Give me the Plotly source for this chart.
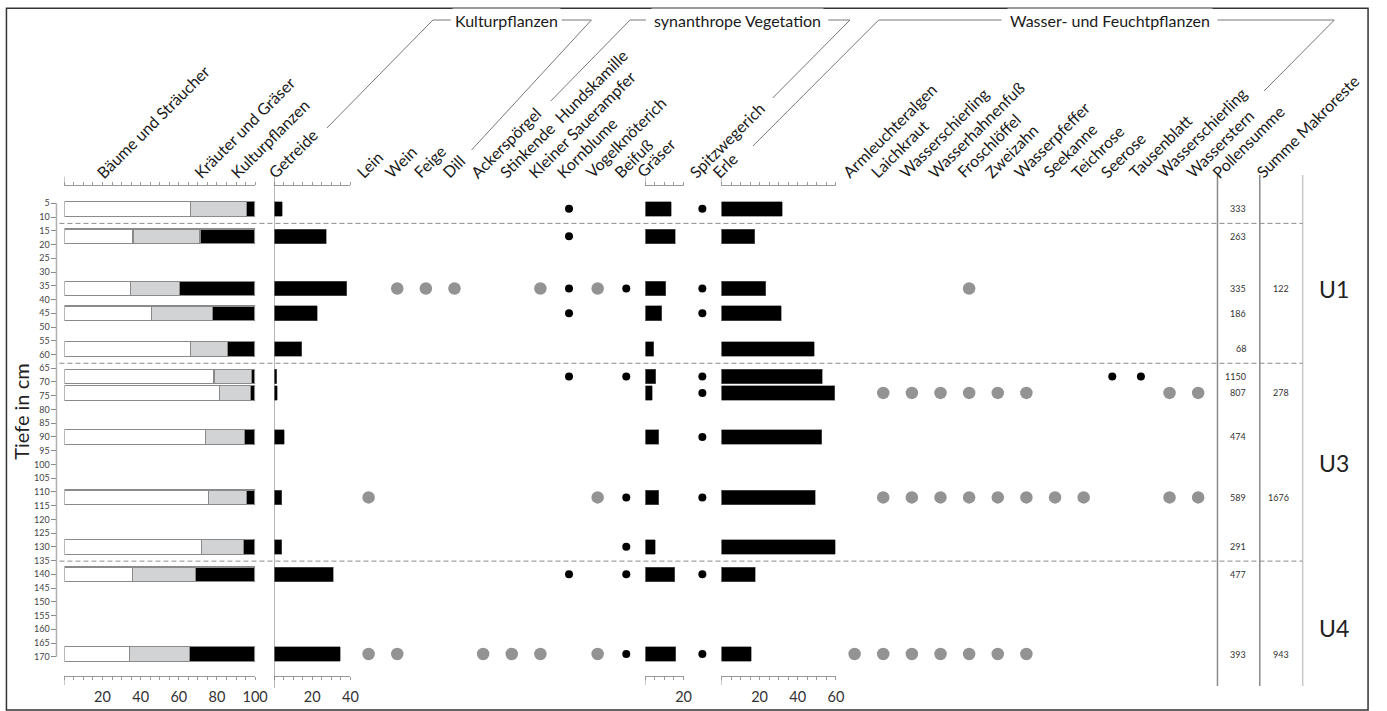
import plotly.graph_objects as go

W, H = 1387, 711
FONT = "Lato"

# ---------------------------------------------------------------- data
# sample depths in cm
tiefe = [7, 17, 36, 45, 58, 68, 74, 90, 112, 130, 140, 169]

# pollen percentages of the three main groups
baeume_straeucher = [66.0, 36.0, 34.7, 45.8, 66.2, 78.5, 81.3, 73.8, 75.4, 71.9, 35.9, 34.3]
kraeuter_graeser = [29.5, 35.1, 25.5, 31.7, 19.2, 19.8, 16.3, 20.8, 19.9, 22.2, 32.7, 31.1]
kulturpflanzen = [4.5, 28.9, 39.8, 22.5, 14.6, 1.7, 2.4, 5.4, 4.7, 5.9, 31.4, 34.6]

# single taxa (percent)
getreide = [4.3, 27.4, 38.1, 22.5, 14.4, 1.3, 1.7, 5.3, 4.1, 3.9, 31.0, 34.7]
graeser = [13.5, 15.6, 10.7, 8.6, 4.3, 5.3, 3.6, 7.1, 6.9, 5.2, 15.3, 16.0]
erle = [31.8, 17.5, 23.3, 31.3, 48.6, 52.9, 59.3, 52.7, 49.3, 59.7, 17.8, 15.6]

# counts
pollensumme = [333, 263, 335, 186, 68, 1150, 807, 474, 589, 291, 477, 393]
summe_makroreste = [None, None, 122, None, None, None, 278, None, 1676, None, None, 943]

# zones
zonen_grenzen = [12.3, 63.2, 135.2]
zonen = ["U1", "U3", "U4"]
zonen_tiefe = [36.3, 99.5, 159.6]

# presence columns: grey = macro remains, black = pollen
syn_taxa = ["Lein", "Wein", "Feige", "Dill", "Ackerspörgel",
            "Stinkende\u00a0 Hundskamille", "Kleiner Sauerampfer", "Kornblume",
            "Vogelknöterich", "Beifuß"]
syn_makro = [[112, 169], [36, 169], [36], [36], [169], [169], [36, 169], [],
             [36, 112, 169], []]
syn_pollen = [[], [], [], [], [], [], [], [7, 17, 36, 45, 68, 140], [],
              [36, 68, 112, 130, 140, 169]]

spitzwegerich_pollen = [7, 36, 45, 68, 74, 90, 112, 140, 169]

wasser_taxa = ["Armleuchteralgen", "Laichkraut", "Wasserschierling", "Wasserhahnenfuß",
               "Froschlöffel", "Zweizahn", "Wasserpfeffer", "Seekanne", "Teichrose",
               "Seerose", "Tausenblatt", "Wasserschierling", "Wasserstern"]
wasser_makro = [[169], [74, 112, 169], [74, 112, 169], [74, 112, 169], [36, 74, 112, 169],
                [74, 112, 169], [74, 112, 169], [112], [112], [], [], [74, 112], [74, 112]]
wasser_pollen = [[], [], [], [], [], [], [], [], [], [68], [68], [], []]

# ---------------------------------------------------------------- layout helpers
def px(x):
    return x / W


def py(y):
    return 1 - y / H


# vertical scale: depth d (cm) sits at pixel row 189.6 + 2.748 * d
D0, DS = 189.6, 2.748
Y_TOP, Y_BOT = 185.5, 675.7
y_range = [(Y_BOT - D0) / DS, (Y_TOP - D0) / DS]
BAR_W = 5.3
PCT = 1.925  # pixels per percent

GREY_DOT = "#939393"
AX_GREY = "#9a9a9a"

fig = go.Figure()

# stacked summary bars
for vals, col, name in [(baeume_straeucher, "#ffffff", "Bäume und Sträucher"),
                        (kraeuter_graeser, "#d1d3d4", "Kräuter und Gräser"),
                        (kulturpflanzen, "#000000", "Kulturpflanzen")]:
    fig.add_trace(go.Bar(x=vals, y=tiefe, orientation="h", width=[BAR_W] * len(tiefe),
                         marker=dict(color=col, line=dict(color="#8a8a8a", width=1.2)),
                         xaxis="x", yaxis="y", name=name, showlegend=False))

black_bar = dict(color="#000000", line=dict(color="#666666", width=0.6))
fig.add_trace(go.Bar(x=getreide, y=tiefe, orientation="h", width=[BAR_W] * len(tiefe),
                     marker=black_bar, xaxis="x2", yaxis="y", showlegend=False))
fig.add_trace(go.Bar(x=graeser, y=tiefe, orientation="h", width=[BAR_W] * len(tiefe),
                     marker=black_bar, xaxis="x4", yaxis="y", showlegend=False))
fig.add_trace(go.Bar(x=erle, y=tiefe, orientation="h", width=[BAR_W] * len(tiefe),
                     marker=black_bar, xaxis="x6", yaxis="y", showlegend=False))


def dots(lists, axis, color, size):
    xs = [i for i, ds in enumerate(lists) for _ in ds]
    ys = [d for ds in lists for d in ds]
    fig.add_trace(go.Scatter(x=xs, y=ys, mode="markers", xaxis=axis, yaxis="y",
                             marker=dict(color=color, size=size, line=dict(width=0)),
                             cliponaxis=False, showlegend=False))


dots(syn_makro, "x3", GREY_DOT, 12.5)
dots(syn_pollen, "x3", "#000000", 8)
dots([spitzwegerich_pollen], "x5", "#000000", 8)
dots(wasser_makro, "x7", GREY_DOT, 12.5)
dots(wasser_pollen, "x7", "#000000", 8)


def scale_axis(x0, vmax, labels):
    vals = list(range(0, vmax + 1, 5))
    return dict(domain=[px(x0), px(x0 + vmax * PCT)], range=[0, vmax], anchor="y",
                showline=True, linecolor=AX_GREY, linewidth=1, mirror="ticks",
                ticks="outside", ticklen=3, tickwidth=1, tickcolor=AX_GREY,
                tickvals=vals, ticktext=[str(v) if v in labels else "" for v in vals],
                tickfont=dict(size=14.5, color="#333333", family=FONT),
                ticklabelstandoff=5, showgrid=False, zeroline=False)


def dot_axis(x_first, n, step=28.9):
    return dict(domain=[px(x_first - step / 2), px(x_first + (n - 0.5) * step)],
                range=[-0.5, n - 0.5], anchor="y", visible=False)


X_SUM, X_GET, X_GRA, X_ERL = 65.0, 276.7, 651.5, 728.3
X_SYN, X_SPI, X_WAS = 372.1, 709.0, 862.7

fig.update_layout(
    width=W, height=H, margin=dict(l=0, r=0, t=0, b=0),
    paper_bgcolor="white", plot_bgcolor="rgba(0,0,0,0)",
    barmode="stack", showlegend=False,
    font=dict(family=FONT, color="#222222"),
    xaxis=scale_axis(X_SUM, 100, [20, 40, 60, 80, 100]),
    xaxis2=scale_axis(X_GET, 40, [20, 40]),
    xaxis3=dot_axis(X_SYN, len(syn_taxa)),
    xaxis4=scale_axis(X_GRA, 20, [20]),
    xaxis5=dot_axis(X_SPI, 1),
    xaxis6=scale_axis(X_ERL, 60, [20, 40, 60]),
    xaxis7=dot_axis(X_WAS, len(wasser_taxa)),
    yaxis=dict(domain=[py(Y_BOT), py(Y_TOP)], range=y_range, anchor="free",
               position=px(57), showline=False, showgrid=False, zeroline=False,
               ticks="outside", ticklen=5, tickwidth=1, tickcolor="#8a8a8a",
               tickvals=list(range(5, 171, 5)),
               tickfont=dict(size=9, color="#444444", family=FONT)),
)

shapes = []

# outer frame
shapes.append(dict(type="rect", xref="paper", yref="paper", x0=px(6.5), x1=px(1381),
                   y0=py(710), y1=py(8.3), line=dict(color="#333333", width=1.5)))
# depth axis line
shapes.append(dict(type="line", xref="paper", yref="y", x0=px(57), x1=px(57), y0=5, y1=170,
                   line=dict(color="#b0b0b0", width=1.5)))
# longer zero ticks of the scale axes
for ax in ["x", "x4", "x6"]:
    shapes.append(dict(type="line", xref=ax, yref="paper", x0=0, x1=0,
                       y0=py(Y_TOP), y1=py(176.5), line=dict(color=AX_GREY, width=1)))
    shapes.append(dict(type="line", xref=ax, yref="paper", x0=0, x1=0,
                       y0=py(Y_BOT), y1=py(685), line=dict(color=AX_GREY, width=1)))
# baseline of the Getreide column
shapes.append(dict(type="line", xref="x2", yref="paper", x0=0, x1=0,
                   y0=py(176), y1=py(688), line=dict(color="#777777", width=1)))
# separators of the count columns
for xx, col in [(1229, "#8a8a8a"), (1271.7, "#8a8a8a"), (1315, "#c8c8c8")]:
    shapes.append(dict(type="line", xref="paper", yref="paper", x0=px(xx), x1=px(xx),
                       y0=py(175), y1=py(686), line=dict(color=col, width=1.5)))
# zone boundaries
for d in zonen_grenzen:
    shapes.append(dict(type="line", xref="paper", yref="y", x0=px(60), x1=px(1315),
                       y0=d, y1=d, line=dict(color="#8c8c8c", width=1, dash="5px,3px")))

# group brackets in the header
bracket_lines = [
    [(330, 128), (437, 20), (455, 20)],
    [(567, 20), (597, 20), (476, 150)],
    [(556, 101), (636, 20), (652, 20)],
    [(836, 20), (858, 20), (780, 98)],
    [(760, 146), (887, 20), (1011, 20)],
    [(1229, 20), (1347, 20), (1276, 91)],
]
for pts in bracket_lines:
    path = "M " + " L ".join(f"{px(a)},{py(b)}" for a, b in pts)
    shapes.append(dict(type="path", xref="paper", yref="paper", path=path,
                       line=dict(color="#777777", width=1)))

fig.update_layout(shapes=shapes)

ann = []
LBL_SIZE = 16
LBL = dict(size=LBL_SIZE, color="#1a1a1a", family=FONT)
OFF = 0.707 * 1.2 * LBL_SIZE - 2.3  # corner offset of the rotated text box
Y_LBL = 179


def rot_label(text, x, xref="paper", xshift=0):
    ann.append(dict(text=text, x=x, y=py(Y_LBL + 2.3), xref=xref, yref="paper",
                    xshift=xshift, xanchor="left", yanchor="bottom", textangle=-45,
                    showarrow=False, borderpad=0, borderwidth=0, font=LBL))


rot_label("Bäume und Sträucher", px(105 - OFF))
rot_label("Kräuter und Gräser", px(203 - OFF))
rot_label("Kulturpflanzen", px(240 - OFF))
rot_label("Getreide", px(278 - OFF))
for i, t in enumerate(syn_taxa):
    rot_label(t, i, xref="x3", xshift=-5 - OFF)
rot_label("Gräser", px(650 - OFF))
rot_label("Spitzwegerich", 0, xref="x5", xshift=-5 - OFF)
rot_label("Erle", px(726 - OFF))
for i, t in enumerate(wasser_taxa):
    rot_label(t, i, xref="x7", xshift=-5 - OFF)
rot_label("Pollensumme", px(1231 - OFF))
rot_label("Summe Makroreste", px(1275 - OFF))

# group titles
for text, xc in [("Kulturpflanzen", 511), ("synanthrope Vegetation", 744.5),
                 ("Wasser- und Feuchtpflanzen", 1120)]:
    ann.append(dict(text=text, x=px(xc), y=py(20), xref="paper", yref="paper",
                    xanchor="center", yanchor="middle", showarrow=False,
                    bgcolor="white", borderpad=2,
                    font=dict(size=16, color="#1a1a1a", family=FONT)))

# depth axis title
ann.append(dict(text="Tiefe in cm", x=px(21), y=py(412), xref="paper", yref="paper",
                textangle=-90, xanchor="center", yanchor="middle", showarrow=False,
                font=dict(size=20, color="#222222", family=FONT)))

# count columns
for d, v in zip(tiefe, pollensumme):
    ann.append(dict(text=str(v), x=px(1260), y=d, xref="paper", yref="y",
                    xanchor="right", yanchor="middle", showarrow=False,
                    font=dict(size=9, color="#333333", family=FONT)))
for d, v in zip(tiefe, summe_makroreste):
    if v is not None:
        ann.append(dict(text=str(v), x=px(1303), y=d, xref="paper", yref="y",
                        xanchor="right", yanchor="middle", showarrow=False,
                        font=dict(size=9, color="#333333", family=FONT)))

# zone names
for z, d in zip(zonen, zonen_tiefe):
    ann.append(dict(text=z, x=px(1347), y=d, xref="paper", yref="y",
                    xanchor="center", yanchor="middle", showarrow=False,
                    font=dict(size=23, color="#222222", family=FONT)))

fig.update_layout(annotations=ann)

fig.write_html("out.html")
